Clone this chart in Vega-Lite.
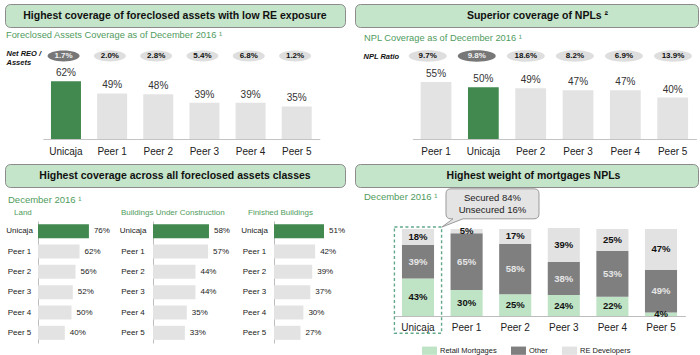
{
  "$schema": "https://vega.github.io/schema/vega-lite/v6.json",
  "padding": {"left": 4, "top": 3, "right": 0, "bottom": 0},
  "background": "white",
  "columns": 2,
  "align": "each",
  "bounds": "flush",
  "spacing": {"row": 25, "column": 10},
  "resolve": {"scale": {"color": "independent"}, "legend": {"color": "independent"}},
  "datasets": {
    "coverage": [
      {"bank": "Unicaja", "value": 0.62, "reo": 0.017},
      {"bank": "Peer 1", "value": 0.49, "reo": 0.020},
      {"bank": "Peer 2", "value": 0.48, "reo": 0.028},
      {"bank": "Peer 3", "value": 0.39, "reo": 0.054},
      {"bank": "Peer 4", "value": 0.39, "reo": 0.068},
      {"bank": "Peer 5", "value": 0.35, "reo": 0.012}
    ],
    "npl": [
      {"bank": "Peer 1", "value": 0.55, "ratio": 0.097},
      {"bank": "Unicaja", "value": 0.50, "ratio": 0.098},
      {"bank": "Peer 2", "value": 0.49, "ratio": 0.186},
      {"bank": "Peer 3", "value": 0.47, "ratio": 0.082},
      {"bank": "Peer 4", "value": 0.47, "ratio": 0.069},
      {"bank": "Peer 5", "value": 0.40, "ratio": 0.139}
    ],
    "classes": [
      {"cls": "Land", "bank": "Unicaja", "value": 0.76},
      {"cls": "Land", "bank": "Peer 1", "value": 0.62},
      {"cls": "Land", "bank": "Peer 2", "value": 0.56},
      {"cls": "Land", "bank": "Peer 3", "value": 0.52},
      {"cls": "Land", "bank": "Peer 4", "value": 0.50},
      {"cls": "Land", "bank": "Peer 5", "value": 0.40},
      {"cls": "Buildings Under Construction", "bank": "Unicaja", "value": 0.58},
      {"cls": "Buildings Under Construction", "bank": "Peer 1", "value": 0.57},
      {"cls": "Buildings Under Construction", "bank": "Peer 2", "value": 0.44},
      {"cls": "Buildings Under Construction", "bank": "Peer 3", "value": 0.44},
      {"cls": "Buildings Under Construction", "bank": "Peer 4", "value": 0.35},
      {"cls": "Buildings Under Construction", "bank": "Peer 5", "value": 0.33},
      {"cls": "Finished Buildings", "bank": "Unicaja", "value": 0.51},
      {"cls": "Finished Buildings", "bank": "Peer 1", "value": 0.42},
      {"cls": "Finished Buildings", "bank": "Peer 2", "value": 0.39},
      {"cls": "Finished Buildings", "bank": "Peer 3", "value": 0.37},
      {"cls": "Finished Buildings", "bank": "Peer 4", "value": 0.30},
      {"cls": "Finished Buildings", "bank": "Peer 5", "value": 0.27}
    ],
    "mix": [
      {"bank": "Unicaja", "type": "Retail Mortgages", "ord": 1, "value": 0.43},
      {"bank": "Unicaja", "type": "Other", "ord": 2, "value": 0.39},
      {"bank": "Unicaja", "type": "RE Developers", "ord": 3, "value": 0.18},
      {"bank": "Peer 1", "type": "Retail Mortgages", "ord": 1, "value": 0.30},
      {"bank": "Peer 1", "type": "Other", "ord": 2, "value": 0.65},
      {"bank": "Peer 1", "type": "RE Developers", "ord": 3, "value": 0.05},
      {"bank": "Peer 2", "type": "Retail Mortgages", "ord": 1, "value": 0.25},
      {"bank": "Peer 2", "type": "Other", "ord": 2, "value": 0.58},
      {"bank": "Peer 2", "type": "RE Developers", "ord": 3, "value": 0.17},
      {"bank": "Peer 3", "type": "Retail Mortgages", "ord": 1, "value": 0.24},
      {"bank": "Peer 3", "type": "Other", "ord": 2, "value": 0.38},
      {"bank": "Peer 3", "type": "RE Developers", "ord": 3, "value": 0.39},
      {"bank": "Peer 4", "type": "Retail Mortgages", "ord": 1, "value": 0.22},
      {"bank": "Peer 4", "type": "Other", "ord": 2, "value": 0.53},
      {"bank": "Peer 4", "type": "RE Developers", "ord": 3, "value": 0.25},
      {"bank": "Peer 5", "type": "Retail Mortgages", "ord": 1, "value": 0.04},
      {"bank": "Peer 5", "type": "Other", "ord": 2, "value": 0.49},
      {"bank": "Peer 5", "type": "RE Developers", "ord": 3, "value": 0.47}
    ]
  },
  "concat": [
    {
      "width": 340, "height": 23,
      "view": {"fill": "#c5e5ca", "stroke": "#8c8c8c", "strokeWidth": 1, "cornerRadius": 5},
      "data": {"values": [{"t": "Highest coverage of foreclosed assets with low RE exposure"}]},
      "mark": {"type": "text", "fontSize": 10.5, "fontWeight": "bold", "color": "#111111"},
      "encoding": {"text": {"field": "t"}}
    },
    {
      "width": 343, "height": 23,
      "view": {"fill": "#c5e5ca", "stroke": "#8c8c8c", "strokeWidth": 1, "cornerRadius": 5},
      "data": {"values": [{"t": "Superior coverage of NPLs ²"}]},
      "mark": {"type": "text", "fontSize": 10.5, "fontWeight": "bold", "color": "#111111", "dx": 11},
      "encoding": {"text": {"field": "t"}}
    },
    {
      "width": 340, "height": 87,
      "title": {"text": "Foreclosed Assets Coverage as of December 2016 ¹", "anchor": "start", "frame": "group", "dx": 1, "offset": 9, "fontSize": 9.3, "fontWeight": "normal", "color": "#4f9b5e"},
      "data": {"name": "coverage"},
      "layer": [
        {
          "encoding": {
            "x": {"field": "bank", "type": "nominal", "scale": {"type": "point", "domain": ["Unicaja", "Peer 1", "Peer 2", "Peer 3", "Peer 4", "Peer 5"], "range": [35.4, 313.2], "padding": 0.5}, "axis": null},
            "y": {"datum": "Net REO / Assets", "type": "nominal", "scale": {"type": "point", "range": [0, 8]},
              "axis": {"title": null, "domain": false, "ticks": false, "tickSize": 0, "grid": false, "labelAlign": "left", "labelBaseline": "middle", "labelPadding": -1, "labelOffset": -3, "labelFontSize": 7.5, "labelFontWeight": "bold", "labelFontStyle": "italic", "labelColor": "#111111", "labelLineHeight": 9.5,
                "labelExpr": "datum.label == 'Net REO / Assets' ? ['Net REO /', 'Assets'] : datum.label"}}
          },
          "layer": [
            {"mark": {"type": "point", "shape": "M-1,0A1,0.34,0,1,1,1,0A1,0.34,0,1,1,-1,0Z", "size": 1024, "filled": true, "opacity": 1, "strokeWidth": 0},
             "encoding": {"color": {"condition": {"test": "datum.bank === 'Unicaja'", "value": "#777777"}, "value": "#dedede"}}},
            {"mark": {"type": "text", "fontSize": 8, "fontWeight": "bold"},
             "encoding": {"text": {"field": "reo", "type": "quantitative", "format": ".1%"}, "color": {"condition": {"test": "datum.bank === 'Unicaja'", "value": "#f2f2f2"}, "value": "#111111"}}}
          ]
        },
        {
          "encoding": {
            "x": {"field": "bank", "type": "nominal", "scale": {"domain": ["Unicaja", "Peer 1", "Peer 2", "Peer 3", "Peer 4", "Peer 5"], "range": [37.9, 314.8], "paddingInner": 0.35, "paddingOuter": 0.175},
              "axis": {"title": null, "labelAngle": 0, "ticks": false, "grid": false, "domainColor": "#c4c4c4", "labelPadding": 7, "labelFontSize": 10, "labelColor": "#222222"}},
            "y": {"field": "value", "type": "quantitative", "scale": {"domain": [0, 0.935], "nice": false}, "axis": null}
          },
          "layer": [
            {"mark": {"type": "bar"}, "encoding": {"color": {"condition": {"test": "datum.bank === 'Unicaja'", "value": "#41894f"}, "value": "#e3e3e3"}}},
            {"mark": {"type": "text", "baseline": "bottom", "dy": -3, "fontSize": 10, "color": "#333333"},
             "encoding": {"text": {"field": "value", "type": "quantitative", "format": ".0%"}}}
          ]
        }
      ],
      "resolve": {"scale": {"x": "independent", "y": "independent"}, "axis": {"x": "independent", "y": "independent"}}
    },
    {
      "width": 343, "height": 87,
      "title": {"text": "NPL Coverage as of December 2016 ¹", "anchor": "start", "frame": "group", "dx": 9, "offset": 7, "fontSize": 9.3, "fontWeight": "normal", "color": "#4f9b5e"},
      "data": {"name": "npl"},
      "layer": [
        {
          "encoding": {
            "x": {"field": "bank", "type": "nominal", "scale": {"type": "point", "domain": ["Peer 1", "Unicaja", "Peer 2", "Peer 3", "Peer 4", "Peer 5"], "range": [48.2, 342.5], "padding": 0.5}, "axis": null},
            "y": {"datum": "NPL Ratio", "type": "nominal", "scale": {"type": "point", "range": [0, 8]},
              "axis": {"title": null, "domain": false, "ticks": false, "tickSize": 0, "grid": false, "labelAlign": "left", "labelBaseline": "middle", "labelPadding": -8, "labelFontSize": 7.5, "labelFontWeight": "bold", "labelFontStyle": "italic", "labelColor": "#111111"}}
          },
          "layer": [
            {"mark": {"type": "point", "shape": "M-1,0A1,0.3,0,1,1,1,0A1,0.3,0,1,1,-1,0Z", "size": 1444, "filled": true, "opacity": 1, "strokeWidth": 0},
             "encoding": {"color": {"condition": {"test": "datum.bank === 'Unicaja'", "value": "#777777"}, "value": "#dedede"}}},
            {"mark": {"type": "text", "fontSize": 8, "fontWeight": "bold"},
             "encoding": {"text": {"field": "ratio", "type": "quantitative", "format": ".1%"}, "color": {"condition": {"test": "datum.bank === 'Unicaja'", "value": "#f2f2f2"}, "value": "#111111"}}}
          ]
        },
        {
          "encoding": {
            "x": {"field": "bank", "type": "nominal", "scale": {"domain": ["Peer 1", "Unicaja", "Peer 2", "Peer 3", "Peer 4", "Peer 5"], "range": [57.35, 341.35], "paddingInner": 0.35, "paddingOuter": 0.175},
              "axis": {"title": null, "labelAngle": 0, "ticks": false, "grid": false, "domainColor": "#c4c4c4", "labelPadding": 7, "labelFontSize": 10, "labelColor": "#222222"}},
            "y": {"field": "value", "type": "quantitative", "scale": {"domain": [0, 0.84], "nice": false}, "axis": null}
          },
          "layer": [
            {"mark": {"type": "bar"}, "encoding": {"color": {"condition": {"test": "datum.bank === 'Unicaja'", "value": "#41894f"}, "value": "#e3e3e3"}}},
            {"mark": {"type": "text", "baseline": "bottom", "dy": -3, "fontSize": 10, "color": "#333333"},
             "encoding": {"text": {"field": "value", "type": "quantitative", "format": ".0%"}}}
          ]
        }
      ],
      "resolve": {"scale": {"x": "independent", "y": "independent"}, "axis": {"x": "independent", "y": "independent"}}
    },
    {
      "width": 340, "height": 23,
      "view": {"fill": "#c5e5ca", "stroke": "#8c8c8c", "strokeWidth": 1, "cornerRadius": 5},
      "data": {"values": [{"t": "Highest coverage across all foreclosed assets classes"}]},
      "mark": {"type": "text", "fontSize": 10.5, "fontWeight": "bold", "color": "#111111"},
      "encoding": {"text": {"field": "t"}}
    },
    {
      "width": 343, "height": 23,
      "view": {"fill": "#c5e5ca", "stroke": "#8c8c8c", "strokeWidth": 1, "cornerRadius": 5},
      "data": {"values": [{"t": "Highest weight of mortgages NPLs"}]},
      "mark": {"type": "text", "fontSize": 10.5, "fontWeight": "bold", "color": "#111111", "dx": 7},
      "encoding": {"text": {"field": "t"}}
    },
    {
      "title": {"text": "December 2016 ¹", "anchor": "start", "frame": "group", "dx": 3, "offset": 5, "fontSize": 9.5, "fontWeight": "normal", "color": "#4f9b5e"},
      "spacing": 0,
      "bounds": "flush",
      "hconcat": [
        {
          "width": 112, "height": 131,
          "title": {"text": "Land", "anchor": "start", "frame": "group", "dx": 9, "offset": -5, "fontSize": 8, "fontWeight": "normal", "color": "#4f9b5e"},
          "data": {"name": "classes"},
          "transform": [{"filter": "datum.cls === 'Land'"}],
          "encoding": {
            "y": {"field": "bank", "type": "nominal", "scale": {"domain": ["Unicaja", "Peer 1", "Peer 2", "Peer 3", "Peer 4", "Peer 5"], "range": [9, 131], "paddingInner": 0.31, "paddingOuter": 0.155},
              "axis": {"title": null, "offset": -33, "domainColor": "#bdbdbd", "ticks": false, "tickSize": 0, "grid": false, "labelAlign": "center", "labelPadding": 19, "labelFontSize": 8, "labelColor": "#222222"}},
            "x": {"field": "value", "type": "quantitative", "scale": {"domain": [0, 1], "range": [33, 100], "nice": false}, "axis": null}
          },
          "layer": [
            {"mark": {"type": "bar"}, "encoding": {"color": {"condition": {"test": "datum.bank === 'Unicaja'", "value": "#41894f"}, "value": "#e3e3e3"}}},
            {"mark": {"type": "text", "align": "left", "dx": 5, "fontSize": 8, "color": "#222222"}, "encoding": {"text": {"field": "value", "type": "quantitative", "format": ".0%"}}}
          ]
        },
        {
          "width": 120, "height": 131,
          "title": {"text": "Buildings Under Construction", "anchor": "start", "frame": "group", "dx": 4, "offset": -5, "fontSize": 8, "fontWeight": "normal", "color": "#4f9b5e"},
          "data": {"name": "classes"},
          "transform": [{"filter": "datum.cls === 'Buildings Under Construction'"}],
          "encoding": {
            "y": {"field": "bank", "type": "nominal", "scale": {"domain": ["Unicaja", "Peer 1", "Peer 2", "Peer 3", "Peer 4", "Peer 5"], "range": [9, 131], "paddingInner": 0.31, "paddingOuter": 0.155},
              "axis": {"title": null, "offset": -36, "domainColor": "#bdbdbd", "ticks": false, "tickSize": 0, "grid": false, "labelAlign": "center", "labelPadding": 20.5, "labelFontSize": 8, "labelColor": "#222222"}},
            "x": {"field": "value", "type": "quantitative", "scale": {"domain": [0, 0.6], "range": [36, 93.9], "nice": false}, "axis": null}
          },
          "layer": [
            {"mark": {"type": "bar"}, "encoding": {"color": {"condition": {"test": "datum.bank === 'Unicaja'", "value": "#41894f"}, "value": "#e3e3e3"}}},
            {"mark": {"type": "text", "align": "left", "dx": 5, "fontSize": 8, "color": "#222222"}, "encoding": {"text": {"field": "value", "type": "quantitative", "format": ".0%"}}}
          ]
        },
        {
          "width": 108, "height": 131,
          "title": {"text": "Finished Buildings", "anchor": "start", "frame": "group", "dx": 11, "offset": -5, "fontSize": 8, "fontWeight": "normal", "color": "#4f9b5e"},
          "data": {"name": "classes"},
          "transform": [{"filter": "datum.cls === 'Finished Buildings'"}],
          "encoding": {
            "y": {"field": "bank", "type": "nominal", "scale": {"domain": ["Unicaja", "Peer 1", "Peer 2", "Peer 3", "Peer 4", "Peer 5"], "range": [9, 131], "paddingInner": 0.31, "paddingOuter": 0.155},
              "axis": {"title": null, "offset": -37, "domainColor": "#bdbdbd", "ticks": false, "tickSize": 0, "grid": false, "labelAlign": "center", "labelPadding": 20, "labelFontSize": 8, "labelColor": "#222222"}},
            "x": {"field": "value", "type": "quantitative", "scale": {"domain": [0, 0.6], "range": [37, 95.8], "nice": false}, "axis": null}
          },
          "layer": [
            {"mark": {"type": "bar"}, "encoding": {"color": {"condition": {"test": "datum.bank === 'Unicaja'", "value": "#41894f"}, "value": "#e3e3e3"}}},
            {"mark": {"type": "text", "align": "left", "dx": 5, "fontSize": 8, "color": "#222222"}, "encoding": {"text": {"field": "value", "type": "quantitative", "format": ".0%"}}}
          ]
        }
      ]
    },
    {
      "width": 343, "height": 104,
      "title": {"text": "December 2016 ¹", "anchor": "start", "frame": "group", "dx": 9, "offset": -15, "fontSize": 9.5, "fontWeight": "normal", "color": "#4f9b5e"},
      "encoding": {
        "x": {"field": "bank", "type": "nominal", "scale": {"domain": ["Unicaja", "Peer 1", "Peer 2", "Peer 3", "Peer 4", "Peer 5"], "range": [38.7, 330.3], "paddingInner": 0.34, "paddingOuter": 0.17},
          "axis": {"title": null, "labelAngle": 0, "ticks": false, "grid": false, "domainColor": "#bdbdbd", "labelPadding": 6, "labelFontSize": 10, "labelColor": "#222222"}}
      },
      "layer": [
        {
          "data": {"values": [{"bank": "Unicaja"}]},
          "mark": {"type": "bar", "width": {"band": 1.47}, "fill": "#ffffff", "fillOpacity": 0, "stroke": "#62a88a", "strokeWidth": 1.4, "strokeDash": [3, 2.5]},
          "encoding": {
            "y": {"datum": 1.023, "type": "quantitative", "scale": {"domain": [0, 1.195], "nice": false}, "axis": null},
            "y2": {"datum": -0.199}
          }
        },
        {
          "data": {"name": "mix"},
          "transform": [
            {"stack": "value", "groupby": ["bank"], "sort": [{"field": "ord", "order": "ascending"}], "as": ["v0", "v1"]},
            {"calculate": "(datum.v0 + datum.v1) / 2", "as": "mid"}
          ],
          "layer": [
            {
              "mark": {"type": "bar"},
              "encoding": {
                "y": {"field": "v0", "type": "quantitative", "scale": {"domain": [0, 1.195], "nice": false}, "axis": null},
                "y2": {"field": "v1"},
                "color": {"field": "type", "type": "nominal",
                  "scale": {"domain": ["Retail Mortgages", "Other", "RE Developers"], "range": ["#bfe3c5", "#7f7f7f", "#e2e2e2"]},
                  "legend": {"orient": "bottom", "direction": "horizontal", "title": null, "symbolType": "M-1,-0.55H1V0.55H-1Z", "symbolSize": 225, "symbolStrokeWidth": 0, "labelFontSize": 7.5, "labelColor": "#222222", "columnPadding": 14, "labelOffset": 3, "offset": 11}}
              }
            },
            {
              "mark": {"type": "text", "fontSize": 9.5, "fontWeight": "bold"},
              "encoding": {
                "y": {"field": "mid", "type": "quantitative"},
                "text": {"field": "value", "type": "quantitative", "format": ".0%"},
                "color": {"condition": {"test": "datum.type === 'Other'", "value": "#e6e6e6"}, "value": "#111111"}
              }
            }
          ]
        },
        {
          "data": {"values": [{"note": "Secured 84%|Unsecured 16%"}]},
          "encoding": {
            "x": {"datum": "Peer 1", "bandPosition": 1.307},
            "y": {"datum": 1.289, "type": "quantitative"}
          },
          "layer": [
            {"mark": {"type": "point", "shape": "M-0.8925,-0.3226H0.8925Q1,-0.3226,1,-0.2151V0.2151Q1,0.3226,0.8925,0.3226H-0.634L-1.086,0.498L-0.849,0.3226H-0.8925Q-1,0.3226,-1,0.2151V-0.2151Q-1,-0.3226,-0.8925,-0.3226Z", "size": 8649, "filled": true, "fill": "#e4e4e4", "stroke": "#9a9a9a", "strokeWidth": 1, "opacity": 1}},
            {"mark": {"type": "text", "lineBreak": "|", "fontSize": 9.5, "lineHeight": 12, "dy": -6, "color": "#222222"}, "encoding": {"text": {"field": "note"}}}
          ]
        }
      ]
    }
  ],
  "config": {
    "font": "Liberation Sans",
    "view": {"stroke": null},
    "axis": {"grid": false},
    "legend": {"layout": {"bottom": {"anchor": "middle"}}}
  }
}
